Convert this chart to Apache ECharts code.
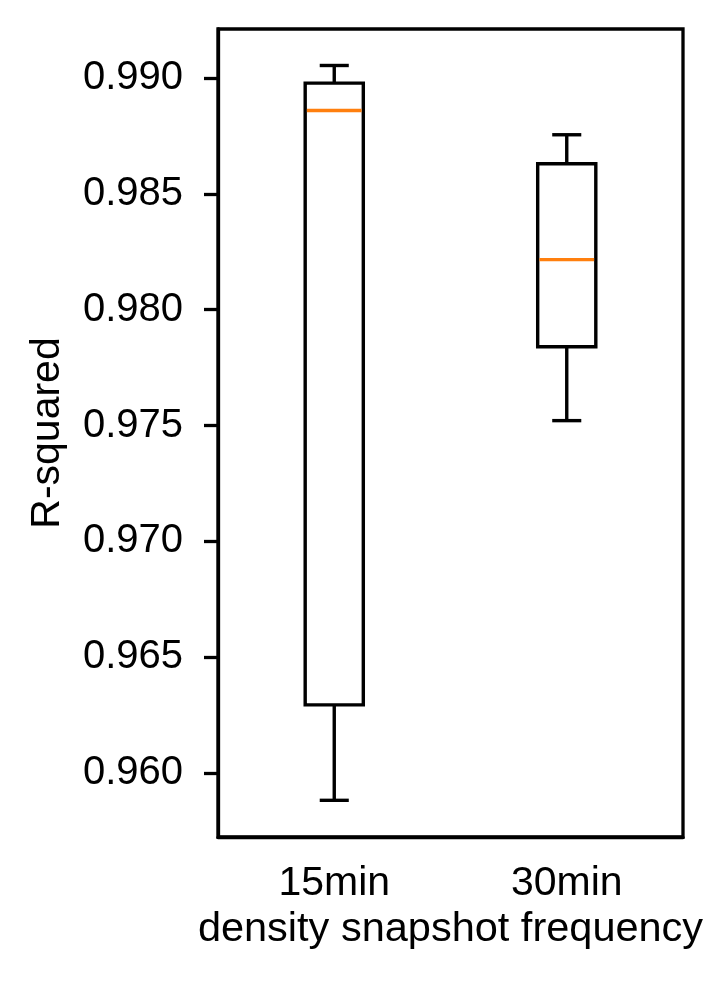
<!DOCTYPE html>
<html>
<head>
<meta charset="utf-8">
<script src="https://cdn.jsdelivr.net/npm/echarts@6/dist/echarts.min.js"></script>
<style>
  html, body { margin: 0; padding: 0; background: #fff; }
  #chart { width: 712px; height: 990px; }
</style>
</head>
<body>
<div id="chart"></div>
<script>
// box stats: [min, Q1, median, Q3, max]
const categories = ['15min', '30min']
const stats15 = [0.95882, 0.96294, 0.98860, 0.98978, 0.99054]
const stats30 = [0.97521, 0.97840, 0.98216, 0.98630, 0.98755]
const yTicks = [0.960, 0.965, 0.970, 0.975, 0.980, 0.985, 0.990]
const yMin = 0.957237
const yMax = 0.992115

const font = '"Liberation Sans", Arial, sans-serif'
const chart = echarts.init(document.getElementById('chart'))

function renderBox (params, api) {
  const x = api.value(0)
  const lo = api.coord([x, api.value(1)])
  const q1 = api.coord([x, api.value(2)])
  const med = api.coord([x, api.value(3)])
  const q3 = api.coord([x, api.value(4)])
  const hi = api.coord([x, api.value(5)])
  const band = api.size([1, 0])[0]
  const w = band * 0.25
  const cap = w / 2
  const cx = q1[0]
  const black = { stroke: '#000', lineWidth: 3.4, fill: null }
  return {
    type: 'group',
    children: [
      { type: 'line', shape: { x1: cx, y1: q3[1], x2: cx, y2: hi[1] }, style: black },
      { type: 'line', shape: { x1: cx, y1: q1[1], x2: cx, y2: lo[1] }, style: black },
      { type: 'line', shape: { x1: cx - cap / 2, y1: hi[1], x2: cx + cap / 2, y2: hi[1] }, style: black },
      { type: 'line', shape: { x1: cx - cap / 2, y1: lo[1], x2: cx + cap / 2, y2: lo[1] }, style: black },
      { type: 'rect', shape: { x: cx - w / 2, y: q3[1], width: w, height: q1[1] - q3[1] }, style: { stroke: '#000', lineWidth: 3.4, fill: 'none' } },
      { type: 'line', shape: { x1: cx - w / 2 + 1.7, y1: med[1], x2: cx + w / 2 - 1.7, y2: med[1] }, style: { stroke: '#ff7f0e', lineWidth: 3.4 } }
    ]
  }
}

const option = {
  animation: false,
  backgroundColor: '#fff',
  grid: {
    left: 218,
    right: 29,
    top: 29,
    bottom: 153,
    show: true,
    borderColor: '#000',
    borderWidth: 3.3,
    backgroundColor: 'transparent'
  },
  xAxis: {
    type: 'category',
    data: categories,
    boundaryGap: true,
    name: 'density snapshot frequency',
    nameLocation: 'middle',
    nameGap: 70,
    nameTextStyle: { fontFamily: font, fontSize: 41.5, color: '#000' },
    axisLine: { lineStyle: { color: '#000', width: 3.3 } },
    axisTick: { alignWithLabel: true, length: 15, lineStyle: { color: '#000', width: 3.3 } },
    axisLabel: { margin: 26, fontFamily: font, fontSize: 41, color: '#000' },
    splitLine: { show: false }
  },
  yAxis: {
    type: 'value',
    min: yMin,
    max: yMax,
    name: 'R-squared',
    nameLocation: 'middle',
    nameGap: 150,
    nameTextStyle: { fontFamily: font, fontSize: 41, color: '#000' },
    axisLine: { show: true, lineStyle: { color: '#000', width: 3.3 } },
    axisTick: { show: true, length: 14, customValues: yTicks, lineStyle: { color: '#000', width: 3.3 } },
    axisLabel: {
      margin: 35,
      fontFamily: font,
      fontSize: 40,
      color: '#000',
      customValues: yTicks,
      formatter: v => v.toFixed(3)
    },
    splitLine: { show: false }
  },
  series: [{
    type: 'custom',
    renderItem: renderBox,
    encode: { x: 0, y: [1, 2, 3, 4, 5] },
    data: [
      [0].concat(stats15),
      [1].concat(stats30)
    ]
  }]
}

chart.setOption(option)
</script>
</body>
</html>
